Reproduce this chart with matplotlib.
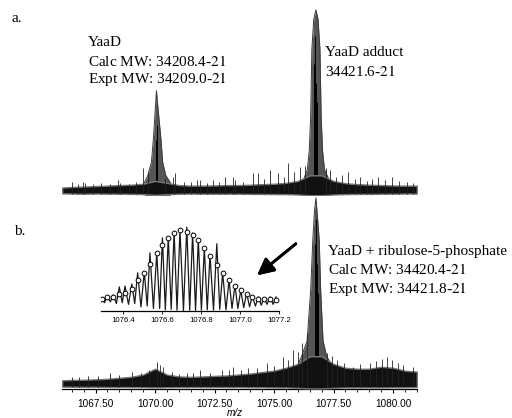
import numpy as np
import matplotlib.pyplot as plt
from matplotlib.ticker import MultipleLocator, FixedLocator

plt.rcParams['mathtext.fontset'] = 'stix'

# ---- data (intensity in % of tallest peak) ----
band_x = [1066.1, 1066.5, 1067.0, 1067.5, 1068.0, 1068.5, 1069.0, 1069.5, 1070.0, 1070.5,
          1071.0, 1071.5, 1072.0, 1072.5, 1073.0, 1073.5, 1074.0, 1074.5, 1075.0, 1075.5,
          1076.0, 1076.5, 1077.0, 1077.5, 1078.0, 1078.5, 1079.0, 1079.5, 1080.0, 1080.5, 1081.0]

# panel a: noise band + peaks
a_top = [4.5, 4.8, 5.0, 5.3, 5.5, 5.8, 6.0, 6.5, 8.0, 7.0, 5.8, 5.5, 5.5, 5.6, 5.8, 5.8,
         6.0, 6.3, 6.5, 7.0, 8.0, 11, 11, 8.0, 6.8, 6.3, 6.0, 5.8, 5.6, 5.5, 5.5]
a_bot = [1.4, 1.3, 1.2, 1.3, 1.2, 1.2, 1.1, 1.0, 0.6, 1.0, 1.2, 1.3, 1.2, 1.2, 1.2, 1.2,
         1.1, 1.1, 1.0, 1.0, 0.8, 0.4, 0.4, 0.8, 1.0, 1.1, 1.1, 1.2, 1.2, 1.3, 1.3]
a_spk_x = [1066.51, 1066.75, 1066.97, 1067.06, 1067.40, 1067.75, 1068.10, 1068.45, 1068.53,
           1068.90, 1069.20, 1069.50, 1069.71, 1070.40, 1070.76, 1070.84, 1071.20, 1071.50,
           1071.76, 1071.89, 1072.20, 1072.44, 1072.70, 1072.94, 1073.28, 1073.36, 1073.70,
           1074.12, 1074.33, 1074.60, 1074.83, 1075.17, 1075.40, 1075.59, 1075.85, 1076.09,
           1076.30, 1077.20, 1077.35, 1077.60, 1077.85, 1078.11, 1078.40, 1078.61, 1078.90,
           1079.10, 1079.37, 1079.65, 1079.96, 1080.25, 1080.59, 1080.85]
a_spk_h = [7.4, 6.5, 7.4, 7.0, 6.2, 6.8, 6.5, 8.5, 7.0, 6.6, 7.2, 15, 13, 9.5, 10, 12, 7.5,
           7.2, 8.5, 8.5, 7.0, 8.5, 7.2, 10, 10, 8.5, 7.5, 12, 12, 9, 13.8, 12, 10, 17.5, 13,
           15.5, 16, 15, 14, 10, 11, 13, 9, 10, 8, 9, 10, 8.5, 10, 8, 7.5, 7]
a1_x = [1069.55, 1069.70, 1069.85, 1069.93, 1070.00, 1070.06, 1070.10, 1070.16, 1070.25,
        1070.32, 1070.45, 1070.65]
a1_y = [7, 11, 18, 30, 44, 56, 50, 42, 30, 18, 11, 7]
a2_x = [1076.25, 1076.40, 1076.48, 1076.54, 1076.59, 1076.67, 1076.76, 1076.85, 1076.93,
        1076.98, 1077.04, 1077.12, 1077.30]
a2_y = [9, 14, 24, 42, 78, 94, 99, 94, 78, 42, 24, 14, 9]
a_core_x = [1070.05, 1070.08, 1076.70, 1076.74, 1076.78, 1076.82]
a_core_h = [30, 38, 70, 85, 60, 50]

# panel b
b_top = [4.5, 4.7, 4.8, 5.0, 5.3, 5.8, 6.3, 7.5, 10.5, 7.5, 6.5, 6.3, 6.5, 6.8, 7.0, 7.5,
         8.0, 8.8, 9.5, 11, 13, 17, 17, 13, 11, 10.5, 10.5, 11.5, 11, 9.5, 9.0]
b_bot = [1.2, 1.2, 1.1, 1.1, 1.0, 1.0, 1.0, 0.9, 0.8, 0.9, 1.0, 1.0, 1.0, 1.0, 1.0, 1.0,
         0.9, 0.9, 0.8, 0.8, 0.6, 0.3, 0.3, 0.6, 0.8, 0.8, 0.8, 0.8, 0.9, 0.9, 1.0]
b_spk_x = [1066.51, 1066.80, 1067.20, 1067.60, 1068.11, 1068.50, 1069.03, 1069.40, 1069.75,
           1070.08, 1070.20, 1070.34, 1070.70, 1071.00, 1071.34, 1071.60, 1071.89, 1072.30,
           1072.82, 1073.10, 1073.28, 1073.60, 1073.91, 1074.30, 1074.71, 1075.00, 1075.38,
           1075.60, 1075.80, 1076.00, 1076.18, 1076.39, 1077.23, 1077.45, 1077.65, 1077.95,
           1078.32, 1078.60, 1079.03, 1079.30, 1079.55, 1079.75, 1079.96, 1080.20, 1080.42,
           1080.84]
b_spk_h = [6.2, 6.0, 6.5, 6.8, 8.3, 7.0, 8.8, 8.5, 10, 14, 12.5, 11.4, 9, 8, 8.3, 8.5, 9.8,
           8.5, 9.8, 10, 11.4, 10, 10.9, 11, 13.5, 12, 16.6, 15, 20, 19, 23.8, 29, 18.6, 17,
           15, 13.5, 11.4, 13, 13.5, 14.5, 15.5, 16.6, 15, 13.5, 12.4, 11.4]
b_pk_x = [1075.95, 1076.16, 1076.39, 1076.54, 1076.63, 1076.70, 1076.76, 1076.82, 1076.90,
          1076.96, 1077.06, 1077.21, 1077.50]
b_pk_y = [11, 17, 25, 51, 77, 92, 99, 90, 77, 51, 25, 17, 11]
b_core_x = [1076.72, 1076.76, 1076.80, 1076.84]
b_core_h = [75, 88, 65, 50]

# inset: isotope envelope (charge 32), measured peaks, valleys and calculated circles
iso_x = [1076.291, 1076.319, 1076.350, 1076.381, 1076.410, 1076.445, 1076.475, 1076.509,
         1076.538, 1076.573, 1076.602, 1076.632, 1076.662, 1076.692, 1076.727, 1076.757,
         1076.786, 1076.817, 1076.846, 1076.881, 1076.911, 1076.944, 1076.974, 1077.004,
         1077.034, 1077.063, 1077.094, 1077.123, 1077.154, 1077.185]
iso_calc = [14, 16.5, 17, 20, 22, 27, 37, 46, 57, 69.5, 79.5, 87.5, 93.5, 97, 95.5, 91.5,
            85, 75.5, 66, 56, 46, 37, 30, 25, 20.5, 17, 15, 14.5, 14, 13]
iso_meas = [15.7, 18, 19.3, 29, 30, 32.5, 46, 47, 70, 70, 88, 89, 95, 97.6, 101, 94, 86,
            76, 67.5, 81, 46, 37, 31, 25, 21.7, 18, 17, 15.7, 17, 17]
val_x = [1076.305, 1076.335, 1076.366, 1076.396, 1076.428, 1076.460, 1076.492, 1076.524,
         1076.556, 1076.588, 1076.617, 1076.647, 1076.677, 1076.710, 1076.742, 1076.772,
         1076.802, 1076.832, 1076.864, 1076.896, 1076.928, 1076.959, 1076.989, 1077.019,
         1077.049, 1077.079, 1077.109, 1077.139, 1077.170]
val_y = [10, 11, 9, 10, 8, 9, 5, 6, 3, 3, 1.5, 2, 1, 0.5, 1, 0.5, 1, 1.5, 1, 2, 1.5, 3, 3,
         4, 5, 6, 7, 8, 8]

main_ticks = [1067.5, 1070.0, 1072.5, 1075.0, 1077.5, 1080.0]
inset_ticks = [1076.4, 1076.6, 1076.8, 1077.0, 1077.2]

W, H = 512, 418
fig = plt.figure(figsize=(W / 100, H / 100), dpi=100)


def fx(px):
    return px / W


def fy(py):
    return 1 - py / H


def draw_spectrum(ax, top, bot, spk_x, spk_h, peaks, core_x, core_h):
    for px_, py_ in peaks:
        ax.fill_between(px_, 0.3, py_, color='#555555', lw=0, zorder=1)
        ax.plot(px_, py_, color='#3a3a3a', lw=0.7, zorder=2)
    ax.vlines(core_x, 0.5, core_h, color='black', lw=0.7, zorder=3)
    ax.fill_between(band_x, bot, top, facecolor='#111111', edgecolor='#777777',
                    lw=1.0, zorder=3)
    ax.vlines(spk_x, 1.0, spk_h, color='#222222', lw=0.6, zorder=3)
    ax.set_xlim(1066.1, 1081.0)
    ax.set_ylim(0, 100)


# panel a (no axis)
ax_a = fig.add_axes([fx(62.2), fy(196), fx(416.8) - fx(62.2), 188 / H])
draw_spectrum(ax_a, a_top, a_bot, a_spk_x, a_spk_h,
              [(a1_x, a1_y), (a2_x, a2_y)], a_core_x, a_core_h)
ax_a.axis('off')

# panel b
ax_b = fig.add_axes([fx(62.2), fy(389), fx(416.8) - fx(62.2), 193 / H])
draw_spectrum(ax_b, b_top, b_bot, b_spk_x, b_spk_h,
              [(b_pk_x, b_pk_y)], b_core_x, b_core_h)
for s in ['top', 'left', 'right']:
    ax_b.spines[s].set_visible(False)
ax_b.spines['bottom'].set_linewidth(0.9)
ax_b.set_yticks([])
ax_b.xaxis.set_major_locator(FixedLocator(main_ticks))
ax_b.xaxis.set_minor_locator(MultipleLocator(0.5))
ax_b.set_xticklabels([f'{t:.2f}' for t in main_ticks], fontsize=7.2,
                     family='Liberation Sans')
ax_b.tick_params(axis='x', which='major', length=3, width=0.8, pad=4)
ax_b.tick_params(axis='x', which='minor', length=1.8, width=0.6)
fig.text(fx(235), fy(413), 'm/z', fontsize=7.2, style='italic',
         family='Liberation Sans', ha='center', va='center')

# inset
ax_i = fig.add_axes([fx(100.6), fy(311), fx(279) - fx(100.6), 86 / H])
line_x, line_y = [], []
for i in range(len(iso_x)):
    line_x.append(iso_x[i])
    line_y.append(iso_meas[i])
    if i < len(val_x):
        line_x.append(val_x[i])
        line_y.append(val_y[i])
ax_i.plot(line_x, line_y, color='#1a1a1a', lw=0.9, zorder=2)
ax_i.plot(iso_x, iso_calc, 'o', ms=3.4, mfc='white', mec='black', mew=0.7, zorder=3)
ax_i.set_xlim(1076.285, 1077.2)
ax_i.set_ylim(0, 103.6)
ax_i.patch.set_visible(False)
for s in ['top', 'left', 'right']:
    ax_i.spines[s].set_visible(False)
ax_i.spines['bottom'].set_linewidth(0.9)
ax_i.set_yticks([])
ax_i.set_xticks(inset_ticks)
ax_i.set_xticklabels([f'{t:.1f}' for t in inset_ticks], fontsize=5.6,
                     family='Liberation Sans')
ax_i.tick_params(axis='x', length=2, width=0.6, pad=2)

# arrow pointing at the inset
fig.add_artist(plt.annotate('', xy=(fx(255), fy(277)), xytext=(fx(298), fy(242)),
                            xycoords='figure fraction', textcoords='figure fraction',
                            arrowprops=dict(arrowstyle='-|>,head_length=1.0,head_width=0.5',
                                            lw=2, color='black')))

# labels
serif = dict(fontsize=11, family='Liberation Serif', ha='left', va='center')
fig.text(fx(12), fy(18), 'a.', **serif)
fig.text(fx(88), fy(43), 'YaaD', **serif)
fig.text(fx(88), fy(61), r'Calc MW: 34208.4-$\mathit{21}$', **serif)
fig.text(fx(88), fy(79), r'Expt MW: 34209.0-$\mathit{21}$', **serif)
fig.text(fx(325), fy(53), 'YaaD adduct', **serif)
fig.text(fx(325), fy(71), r'34421.6-$\mathit{21}$', **serif)
fig.text(fx(14), fy(231), 'b.', **serif)
fig.text(fx(328), fy(252), 'YaaD + ribulose-5-phosphate', **serif)
fig.text(fx(328), fy(270), r'Calc MW: 34420.4-$\mathit{21}$', **serif)
fig.text(fx(328), fy(289), r'Expt MW: 34421.8-$\mathit{21}$', **serif)

fig.savefig('out.png', dpi=100)
